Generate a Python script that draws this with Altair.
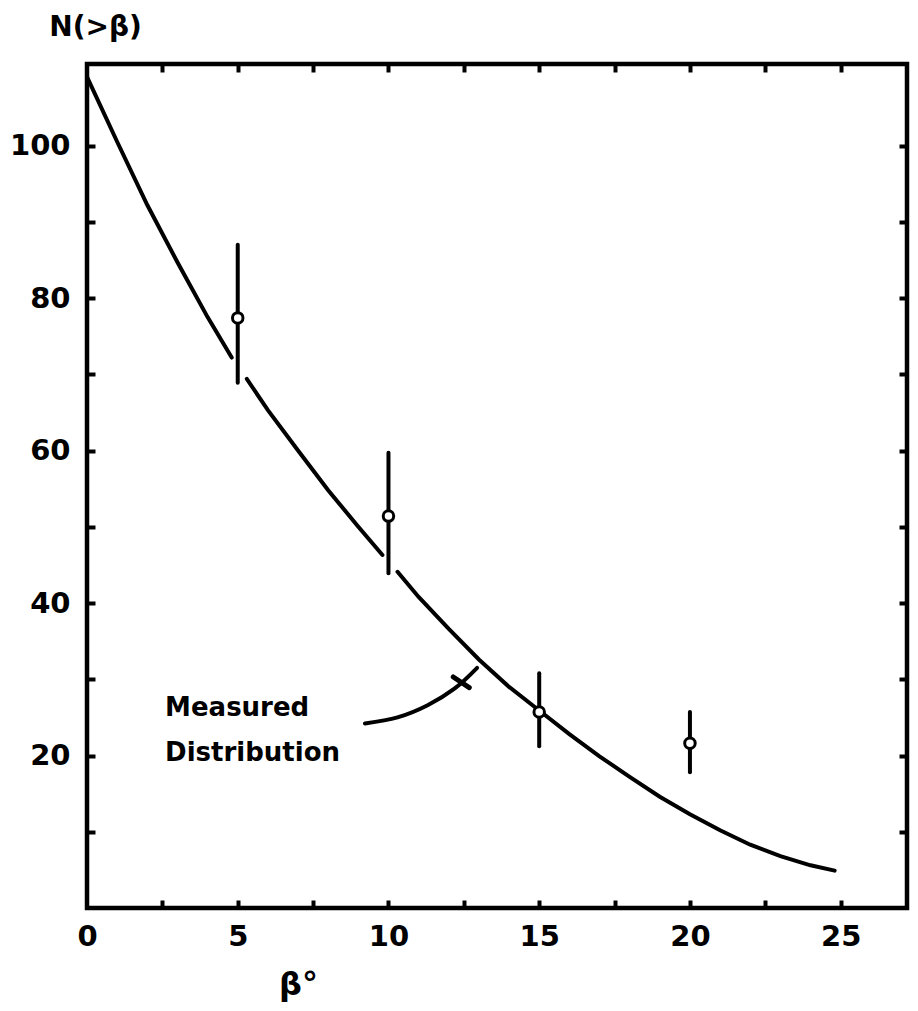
import altair as alt
import pandas as pd

# Measured distribution curve, split where the curve is broken
curve_x = [0, 1, 2, 3, 4, 4.8,
           5.3, 6, 7, 8, 9, 9.8,
           10.3, 11, 12, 13, 14, 15, 16, 17, 18, 19, 20, 21, 22, 23, 24, 24.8]
curve_y = [109, 100.5, 92.2, 84.7, 77.5, 72.2,
           69.4, 65.3, 60, 54.8, 50, 46.3,
           44.1, 40.8, 36.6, 32.6, 29, 25.9, 22.8, 19.9, 17.2, 14.6, 12.3, 10.2, 8.3, 6.8, 5.6, 4.9]
curve_seg = ["a"] * 6 + ["b"] * 6 + ["c"] * 16

# Data points with error bars
pt_x = [5, 10, 15, 20]
pt_y = [77.4, 51.4, 25.7, 21.6]
err_lo = [68.9, 43.9, 21.2, 17.8]
err_hi = [87.0, 59.7, 30.8, 25.7]

# Annotation
note_text = ["Measured", "Distribution"]
note_x = [2.59, 2.59]
note_y = [25.2, 19.3]
arrow_x = [9.22, 10.3, 11.3, 12.2, 12.94]
arrow_y = [24.2, 25.0, 26.6, 28.8, 31.5]
head_x = [12.15, 12.68]
head_y = [30.3, 28.9]

# Axes
x_label_values = [0, 5, 10, 15, 20, 25]
x_tick_values = [2.5, 5, 7.5, 10, 12.5, 15, 17.5, 20, 22.5, 25]
y_label_values = [20, 40, 60, 80, 100]
y_tick_values = [10, 20, 30, 40, 50, 60, 70, 80, 90, 100]
x_domain = [0, 27.2]
y_domain = [0, 110.7]

FONT = "DejaVu Sans"

curve_df = pd.DataFrame({"x": curve_x, "y": curve_y, "seg": curve_seg})
pts_df = pd.DataFrame({"x": pt_x, "y": pt_y, "lo": err_lo, "hi": err_hi})
note_df = pd.DataFrame({"t": note_text, "x": note_x, "y": note_y})
arrow_df = pd.DataFrame({"x": arrow_x, "y": arrow_y})
head_df = pd.DataFrame({"x": head_x, "y": head_y})

xs = alt.Scale(domain=x_domain, nice=False, zero=False)
ys = alt.Scale(domain=y_domain, nice=False, zero=False)

label_axis_x = alt.Axis(values=x_label_values, ticks=False, domain=False, grid=False,
                        labelFont=FONT, labelFontSize=29, labelFontWeight="bold",
                        labelColor="black", labelPadding=14, labelFlush=False,
                        title="β°", titleFont=FONT, titleFontSize=32, titleFontWeight="bold",
                        titleColor="black", titleX=211, titleY=86, titleAlign="center",
                        titleBaseline="alphabetic")
label_axis_y = alt.Axis(values=y_label_values, ticks=False, domain=False, grid=False,
                        labelFont=FONT, labelFontSize=29, labelFontWeight="bold",
                        labelColor="black", labelPadding=17, labelFlush=False,
                        title="N(>β)", titleFont=FONT, titleFontSize=28, titleFontWeight="bold",
                        titleColor="black", titleAngle=0, titleX=8, titleY=-37,
                        titleAlign="center", titleBaseline="middle")


def tick_axis(values, orient):
    return alt.Axis(values=values, orient=orient, offset=-8, tickSize=8, tickWidth=4,
                    tickColor="black", labels=False, domain=False, grid=False, title=None)


curve = alt.Chart(curve_df).mark_line(color="black", strokeWidth=4, strokeCap="round").encode(
    x=alt.X("x:Q", scale=xs, axis=label_axis_x),
    y=alt.Y("y:Q", scale=ys, axis=label_axis_y),
    detail="seg:N",
)

errbars = alt.Chart(pts_df).mark_rule(color="black", strokeWidth=4, strokeCap="round").encode(
    x=alt.X("x:Q", scale=xs, axis=tick_axis(x_tick_values, "top")),
    y=alt.Y("lo:Q", scale=ys, axis=tick_axis(y_tick_values, "right")),
    y2="hi:Q",
)

points = alt.Chart(pts_df).mark_point(shape="circle", filled=True, fill="white", stroke="black",
                                      strokeWidth=3, size=110, opacity=1).encode(
    x=alt.X("x:Q", scale=xs, axis=tick_axis(x_tick_values, "bottom")),
    y=alt.Y("y:Q", scale=ys, axis=tick_axis(y_tick_values, "left")),
)

note = alt.Chart(note_df).mark_text(font=FONT, fontSize=26, fontWeight="bold", color="black",
                                    align="left", baseline="alphabetic").encode(
    x=alt.X("x:Q", scale=xs, axis=None),
    y=alt.Y("y:Q", scale=ys, axis=None),
    text="t:N",
)

arrow = alt.Chart(arrow_df).mark_line(color="black", strokeWidth=4, strokeCap="round",
                                      interpolate="cardinal").encode(
    x=alt.X("x:Q", scale=xs, axis=None),
    y=alt.Y("y:Q", scale=ys, axis=None),
)

head = alt.Chart(head_df).mark_line(color="black", strokeWidth=5, strokeCap="round").encode(
    x=alt.X("x:Q", scale=xs, axis=None),
    y=alt.Y("y:Q", scale=ys, axis=None),
)

chart = alt.layer(curve, errbars, points, note, arrow, head).resolve_scale(
    x="independent", y="independent"
).properties(
    width=820, height=844,
    autosize=alt.AutoSizeParams(type="none"),
    padding={"left": 79, "top": 56, "right": 3, "bottom": 94},
    background="white",
).configure_view(stroke="black", strokeWidth=4.5)

chart.save("out.html", embed_options={"renderer": "svg", "actions": False})
